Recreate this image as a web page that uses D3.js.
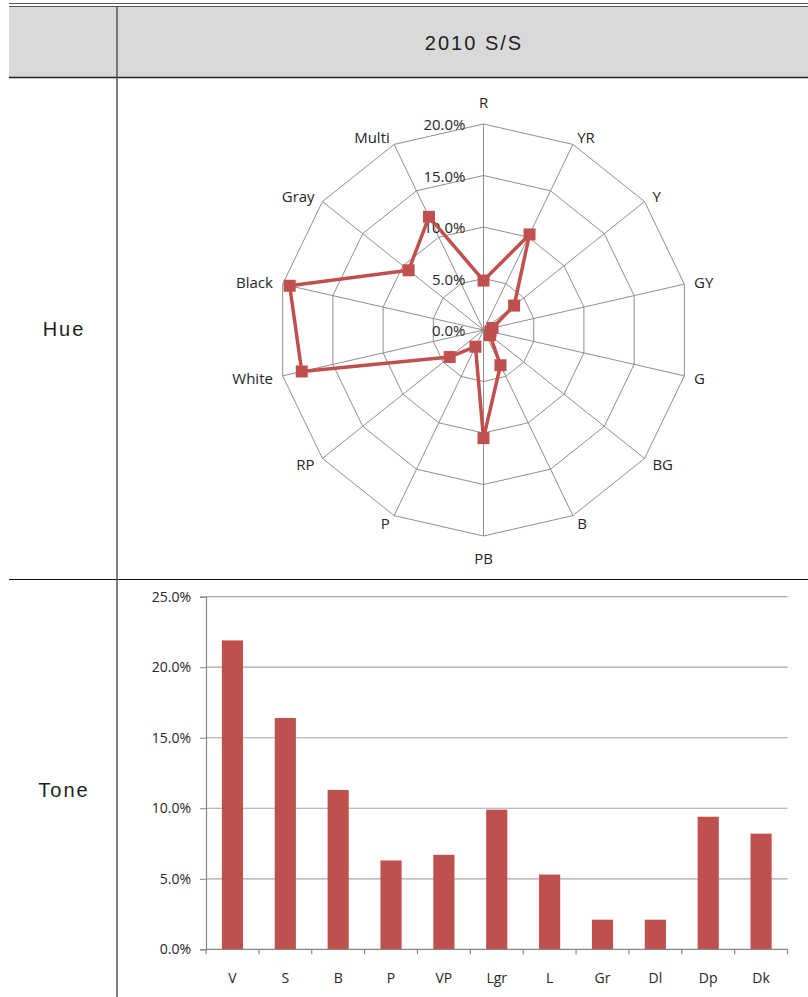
<!DOCTYPE html>
<html>
<head>
<meta charset="utf-8">
<script src="https://cdn.jsdelivr.net/npm/d3@7"></script>
<style>
  html, body { margin: 0; padding: 0; background: #fff; }
  svg { display: block; }
  .cell-text { font-family: "Liberation Sans", Arial, sans-serif; font-size: 20px; fill: #1e1e1e; letter-spacing: 2px; }
  .chart-text { font-family: "Open Sans", "Noto Sans", sans-serif; fill: #262626; }
</style>
</head>
<body>
<script>
// Hue distribution (percent of items), clockwise from R
const hueCats = ["R", "YR", "Y", "GY", "G", "BG", "B", "PB", "P", "RP", "White", "Black", "Gray", "Multi"];
const hueValues = [4.8, 10.3, 3.8, 0.9, 0.7, 0.8, 3.8, 10.5, 1.8, 4.2, 18.1, 19.3, 9.3, 12.2];
const hueTicks = [0, 5, 10, 15, 20];

// Tone distribution (percent of items)
const toneCats = ["V", "S", "B", "P", "VP", "Lgr", "L", "Gr", "Dl", "Dp", "Dk"];
const toneValues = [21.9, 16.4, 11.3, 6.3, 6.7, 9.9, 5.3, 2.1, 2.1, 9.4, 8.2];
const toneTicks = [0, 5, 10, 15, 20, 25];

const W = 808, H = 997;
const RED = "#c0504d";
const pct = d => d.toFixed(1) + "%";

const svg = d3.select("body").append("svg").attr("width", W).attr("height", H);

// ---------- table frame ----------
const tableLeft = 9, colX = 117, headTop = 7, headBottom = 77.5, rowY = 579.5;
svg.append("rect").attr("x", tableLeft).attr("y", headTop).attr("width", W - tableLeft).attr("height", headBottom - headTop)
  .attr("fill", "#d9d9d9");
svg.append("line").attr("x1", tableLeft).attr("x2", W).attr("y1", 3.5).attr("y2", 3.5).attr("stroke", "#555").attr("stroke-width", 1);
svg.append("line").attr("x1", tableLeft).attr("x2", W).attr("y1", 6.5).attr("y2", 6.5).attr("stroke", "#555").attr("stroke-width", 1);
svg.append("line").attr("x1", tableLeft).attr("x2", W).attr("y1", headBottom).attr("y2", headBottom).attr("stroke", "#222").attr("stroke-width", 1.5);
svg.append("line").attr("x1", tableLeft).attr("x2", W).attr("y1", rowY).attr("y2", rowY).attr("stroke", "#111").attr("stroke-width", 1);
svg.append("line").attr("x1", colX).attr("x2", colX).attr("y1", headTop).attr("y2", H).attr("stroke", "#555").attr("stroke-width", 1.5);

svg.append("text").attr("class", "cell-text").attr("x", 474).attr("y", 43)
  .attr("text-anchor", "middle").attr("dominant-baseline", "central").text("2010 S/S");
svg.append("text").attr("class", "cell-text").attr("x", 64).attr("y", 329)
  .attr("text-anchor", "middle").attr("dominant-baseline", "central").text("Hue");
svg.append("text").attr("class", "cell-text").attr("x", 64).attr("y", 790)
  .attr("text-anchor", "middle").attr("dominant-baseline", "central").text("Tone");

// ---------- radar chart (Hue) ----------
const cx = 483.5, cy = 330, R = 206;
const rScale = d3.scaleLinear().domain([0, 20]).range([0, R]);
const angle = d3.scaleLinear().domain([0, hueCats.length]).range([0, 2 * Math.PI]);
const radar = svg.append("g").attr("transform", `translate(${cx},${cy})`);
const pt = (i, v) => [Math.sin(angle(i)) * rScale(v), -Math.cos(angle(i)) * rScale(v)];

// rings
const ring = d3.lineRadial().angle((d, i) => angle(i)).radius(d => rScale(d)).curve(d3.curveLinearClosed);
hueTicks.filter(t => t > 0).forEach(t => {
  radar.append("path").attr("d", ring(hueCats.map(() => t)))
    .attr("fill", "none").attr("stroke", "#8f8f8f").attr("stroke-width", 1);
});
// spokes
hueCats.forEach((c, i) => {
  const [x, y] = pt(i, 20);
  radar.append("line").attr("x1", 0).attr("y1", 0).attr("x2", x).attr("y2", y)
    .attr("stroke", "#8f8f8f").attr("stroke-width", 1);
});
// tick labels along the R spoke
hueTicks.forEach(t => {
  radar.append("text").attr("class", "chart-text").attr("font-size", 15)
    .attr("x", -18).attr("y", -rScale(t)).attr("text-anchor", "end").attr("dominant-baseline", "central")
    .text(pct(t));
});
// category labels
hueCats.forEach((c, i) => {
  const s = Math.sin(angle(i)), co = Math.cos(angle(i));
  const [x, y] = pt(i, 20);
  let anchor = "middle", lx = x, ly;
  if (Math.abs(s) < 0.1) {
    ly = y - co * 22;
  } else {
    anchor = s > 0 ? "start" : "end";
    lx = x + s * 10;
    ly = y - co * 8.5;
  }
  radar.append("text").attr("class", "chart-text").attr("font-size", 15)
    .attr("x", lx).attr("y", ly).attr("text-anchor", anchor).attr("dominant-baseline", "central").text(c);
});
// data line and markers
radar.append("path").attr("d", ring(hueValues))
  .attr("fill", "none").attr("stroke", RED).attr("stroke-width", 3.5).attr("stroke-linejoin", "round");
radar.selectAll("rect.marker").data(hueValues).enter().append("rect").attr("class", "marker")
  .attr("x", (d, i) => pt(i, d)[0] - 6).attr("y", (d, i) => pt(i, d)[1] - 6)
  .attr("width", 12).attr("height", 12).attr("fill", RED);

// ---------- bar chart (Tone) ----------
const x0 = 206, x1 = 787.5, yBottom = 949.3, yTop = 596.7;
const x = d3.scaleBand().domain(toneCats).range([x0, x1]).paddingInner(0.6).paddingOuter(0.3);
const xb = d3.scaleBand().domain(toneCats).range([x0, x1]).padding(0);
const y = d3.scaleLinear().domain([0, 25]).range([yBottom, yTop]);
const bars = svg.append("g");

// gridlines
bars.selectAll("line.grid").data(toneTicks.filter(t => t > 0)).enter().append("line")
  .attr("x1", x0).attr("x2", x1).attr("y1", d => y(d)).attr("y2", d => y(d))
  .attr("stroke", "#a6a6a6").attr("stroke-width", 1.2);

// bars
bars.selectAll("rect.bar").data(toneValues).enter().append("rect")
  .attr("x", (d, i) => x(toneCats[i])).attr("width", x.bandwidth())
  .attr("y", d => y(d)).attr("height", d => yBottom - y(d))
  .attr("fill", RED);

// y axis
const yAxis = d3.axisLeft(y).tickValues(toneTicks).tickSize(6).tickPadding(9).tickFormat(pct);
const yg = bars.append("g").attr("transform", `translate(${x0},0)`).call(yAxis);
yg.select(".domain").attr("stroke", "#868686").attr("stroke-width", 1.2);
yg.selectAll(".tick line").attr("stroke", "#868686");
yg.selectAll(".tick text").attr("class", "chart-text").attr("font-size", 14).attr("fill", "#262626");

// x axis with ticks at category boundaries
bars.append("line").attr("x1", x0).attr("x2", x1).attr("y1", yBottom).attr("y2", yBottom)
  .attr("stroke", "#868686").attr("stroke-width", 1.2);
const bounds = toneCats.map(c => xb(c)).concat([x1]);
bars.selectAll("line.xt").data(bounds).enter().append("line")
  .attr("x1", d => d).attr("x2", d => d).attr("y1", yBottom).attr("y2", yBottom + 5)
  .attr("stroke", "#868686").attr("stroke-width", 1.2);
bars.selectAll("text.xl").data(toneCats).enter().append("text").attr("class", "chart-text")
  .attr("font-size", 14).attr("x", d => x(d) + x.bandwidth() / 2).attr("y", 977)
  .attr("text-anchor", "middle").attr("dominant-baseline", "central").text(d => d);
</script>
</body>
</html>
